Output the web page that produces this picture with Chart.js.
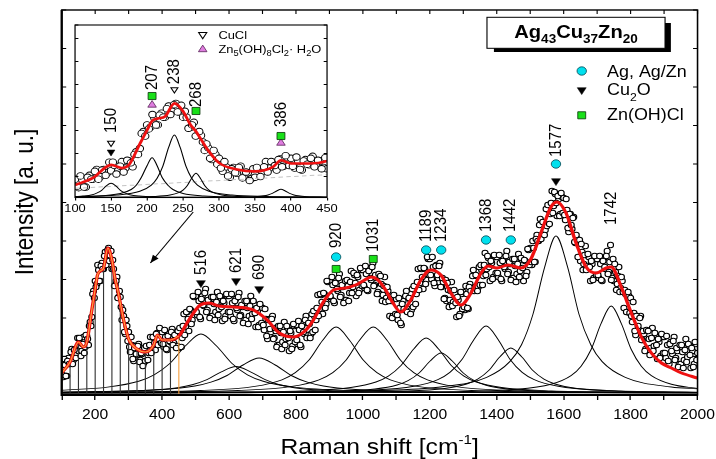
<!DOCTYPE html>
<html><head><meta charset="utf-8">
<script src="https://cdn.jsdelivr.net/npm/chart.js@4.4.1/dist/chart.umd.min.js"></script>
<style>
html,body{margin:0;padding:0;background:#fff;}
#wrap{position:relative;width:716px;height:459px;overflow:hidden;}
#wrap canvas{position:absolute;left:0;top:0;}
</style></head><body>
<div id="wrap"><canvas id="main" width="716" height="459"></canvas><canvas id="inset" width="716" height="459"></canvas></div>
<script>
// ---------------- DATA ----------------
const ramanStart = 100, ramanStep = 5, offsetStart = 102.5;
// measured spectrum, sampled every 5 cm-1 from 100 to 2000
const intensity = [
31,18,30,19,37,31,46,35,46,41, 44,52,44,58,48,59,50,73,78,104,
114,111,125,114,132,126,143,135,147,134, 126,126,110,118,98,98,75,79,61,69,
63,43,50,34,49,40,51,35,41,32, 34,46,42,58,48,57,45,62,51,64,
63,48,58,45,61,53,66,52,59,49, 47,62,57,81,68,83,64,85,75,98,
99,80,94,76,99,89,106,85,93,79, 79,91,83,103,86,97,74,92,79,99,
99,79,92,74,96,85,102,80,88,75, 75,87,79,99,81,91,68,84,70,88,
87,65,76,56,76,63,79,57,64,50, 50,62,53,73,56,66,44,62,49,69,
70,51,65,48,71,61,79,60,71,61, 63,79,75,100,86,100,81,101,91,113,
114,96,110,92,115,104,121,100,108,95, 95,109,102,124,108,120,99,118,105,125,
125,107,121,104,126,115,132,110,117,103, 101,111,100,118,97,104,79,94,79,97,
96,75,87,70,94,85,104,86,96,85, 88,105,101,126,112,126,106,126,115,136,
136,116,128,109,130,117,132,108,113,97, 94,105,95,113,93,102,78,95,81,101,
103,85,101,86,111,104,125,108,119,108, 110,125,119,142,126,137,114,132,118,138,
138,118,132,114,137,126,144,123,131,117, 117,129,121,141,124,135,114,134,123,145,
147,130,147,133,160,154,176,160,173,165, 169,185,181,204,189,201,179,196,181,198,
197,175,185,163,181,166,178,152,156,138, 134,143,131,149,129,138,114,131,117,136,
136,117,131,114,137,126,144,123,150,117, 114,123,111,128,107,114,87,101,83,99,
97,73,82,60,79,65,79,55,61,46, 45,56,47,67,49,59,36,53,39,58,
58,37,50,31,53,41,58,37,44,31, 31,43,35,56,38,49,27,44,31,51,
42];
// interleaved measured points, every 5 cm-1 from 102.5 to 1997.5
const intensityOffset = [
20,36,19,34,31,43,31,45,37,57, 57,39,51,42,60,56,69,69,101,97,
108,130,114,129,126,139,130,145,134,144, 135,109,114,97,104,88,85,63,75,54,
48,58,36,47,41,49,33,42,29,47, 49,35,50,42,58,52,61,50,67,52,
51,65,46,59,54,63,50,60,47,64, 67,48,69,60,83,76,86,71,99,83,
83,103,78,96,90,102,83,95,77,98, 98,75,93,80,99,88,94,76,101,83,
83,101,76,94,87,98,79,90,72,94, 94,71,89,76,94,82,87,68,91,72,
70,86,59,75,66,76,56,67,48,69, 69,46,63,50,69,57,64,46,71,53,
55,74,50,69,63,75,57,72,57,81, 84,65,87,79,101,93,102,87,114,98,
99,118,94,112,106,117,98,110,92,114, 115,94,113,102,122,112,120,102,127,109,
110,129,105,124,117,128,109,120,101,121, 119,94,109,93,108,94,98,77,100,81,
80,97,72,91,86,99,83,97,81,106, 109,91,113,105,127,118,127,111,138,120,
120,138,112,129,120,129,108,117,96,115, 112,88,104,89,105,92,98,79,103,86,
88,109,87,108,104,119,104,120,104,128, 130,110,130,120,139,128,134,116,140,122,
122,140,116,134,128,139,121,133,115,136, 136,113,131,118,137,127,135,119,146,130,
133,154,133,156,154,170,156,173,160,186, 190,171,192,182,203,192,199,179,202,182,
180,196,167,181,170,177,153,160,138,155, 151,125,140,125,141,128,134,115,139,120,
120,139,115,134,128,139,121,133,115,136, 131,105,119,103,118,103,105,83,103,82,
79,93,64,79,69,77,55,64,44,65, 64,40,57,44,62,50,56,37,61,42,
42,59,34,51,44,54,35,47,28,50, 50,27,45,33,51,40,47,28,53,35];
// fitted envelope
const fitShift = [100,125,150,165,175,190,200,207,215,225,238,250,260,268,275,285,300,325,350,375,
386,400,425,450,480,514,540,570,614,650,673,714,750,792,830,852,880,912,948,978,
1000,1025,1045,1068,1090,1113,1143,1173,1203,1233,1263,1293,1323,1353,1374,1400,1434,1472,1502,1532,
1562,1580,1607,1637,1667,1697,1727,1742,1772,1802,1832,1862,1892,1922,1952,2000];
const fitIntensity = [22,33,53,48,53,85,106,120,124,127,147,135,115,104,92,75,56,46,43,50,
60,55,55,59,75,90,92,89,88,87,85,75,62,58,65,75,92,105,107,110,
114,118,115,105,92,83,95,115,125,120,102,90,102,122,129,127,130,127,136,162,
188,193,182,152,128,122,127,128,108,82,58,42,32,27,22,17];
// fitted component bands (main plot)
const comp516 = [[100,4.8],[237,7.9],[330,13.8],[376,20.2],[423,31.5],[470,49.2],[516,61],[562,49.2],[609,31.5],[655,20.2],[702,13.8],[795,7.9],[981,4.3],[1260,2.9],[1632,2.4],[2000,2.2]];
const comp621 = [[100,2.7],[360,4.7],[447,7.3],[490,10.2],[534,15.3],[577,23.2],[621,28.5],[664,23.2],[708,15.3],[751,10.2],[795,7.3],[882,4.7],[1056,3.0],[1317,2.4],[1665,2.2],[2000,2.1]];
const comp690 = [[100,2.9],[402,5.5],[498,9],[546,12.8],[594,19.5],[642,30],[690,37],[738,30],[786,19.5],[834,12.8],[882,9],[978,5.5],[1170,3.4],[1458,2.5],[1842,2.3],[2000,2.2]];
const comp920 = [[100,2.6],[272,3.0],[515,4.5],[677,8.6],[758,15.2],[798,22.3],[839,35],[880,54.8],[920,68],[960,54.8],[1001,35],[1042,22.3],[1082,15.2],[1163,8.6],[1325,4.5],[1568,3.0],[1892,2.5],[2000,2.4]];
const comp1031 = [[100,2.5],[383,3.0],[626,4.5],[788,8.6],[869,15.2],[910,22.3],[950,35],[990,54.8],[1031,68],[1072,54.8],[1112,35],[1152,22.3],[1193,15.2],[1274,8.6],[1436,4.5],[1679,3.0],[2000,2.5]];
const comp1189 = [[100,2.3],[289,2.4],[589,2.9],[814,4.1],[964,7.5],[1039,13],[1076,18.9],[1114,29.5],[1152,46],[1189,57],[1226,46],[1264,29.5],[1302,18.9],[1339,13],[1414,7.5],[1564,4.1],[1789,2.9],[2000,2.5]];
const comp1234 = [[100,2.1],[442,2.3],[706,2.6],[904,3.5],[1036,6],[1102,10],[1135,14.3],[1168,22],[1201,34],[1234,42],[1267,34],[1300,22],[1333,14.3],[1366,10],[1432,6],[1564,3.5],[1762,2.6],[2000,2.3]];
const comp1368 = [[100,2.2],[504,2.5],[792,3.0],[1008,4.6],[1152,8.7],[1224,15.4],[1260,22.6],[1296,35.5],[1332,55.6],[1368,69],[1404,55.6],[1440,35.5],[1476,22.6],[1512,15.4],[1584,8.7],[1728,4.6],[1944,3.0],[2000,2.9]];
const comp1442 = [[100,2.1],[650,2.3],[914,2.7],[1112,3.7],[1244,6.5],[1310,11],[1343,15.8],[1376,24.5],[1409,38],[1442,47],[1475,38],[1508,24.5],[1541,15.8],[1574,11],[1640,6.5],[1772,3.7],[1970,2.7],[2000,2.6]];
const comp1577 = [[100,2.3],[749,3.1],[1025,4.4],[1232,8.0],[1370,17.7],[1439,33.4],[1474,50.3],[1508,80.5],[1543,127.6],[1577,159],[1612,127.6],[1646,80.5],[1681,50.3],[1715,33.4],[1784,17.7],[1922,8.0],[2000,6.1]];
const comp1742 = [[100,2.1],[1022,2.6],[1262,3.3],[1442,5.3],[1562,10.7],[1622,19.4],[1652,28.8],[1682,45.5],[1712,71.6],[1742,89],[1772,71.6],[1802,45.5],[1832,28.8],[1862,19.4],[1922,10.7],[2000,6.5]];
// fitted component bands (inset, 100-450 cm-1)
const ins150 = [[100,4.4],[111,5.2],[124,7.3],[130,9.7],[137,13.9],[143,20.4],[150,24.7],[157,20.4],[163,13.9],[170,9.7],[176,7.3],[189,5.2],[215,3.8],[254,3.3],[306,3.15],[450,3.04]];
const ins207 = [[100,4.1],[120,4.6],[163,9.1],[178,15.2],[185,21.7],[192,33.5],[200,51.7],[207,63.9],[214,51.7],[221,33.5],[229,21.7],[236,15.2],[250,9.1],[279,5.3],[323,3.9],[381,3.4],[450,3.2]];
const ins238 = [[100,4.3],[158,6.7],[190,12.6],[206,22.1],[214,32.4],[222,50.9],[230,79.6],[238,98.7],[246,79.6],[254,50.9],[262,32.4],[270,22.1],[286,12.6],[318,6.7],[366,4.5],[430,3.7],[450,3.5]];
const ins268 = [[100,3.2],[172,3.6],[208,4.4],[232,6.7],[244,10.4],[250,14.4],[256,21.5],[262,32.6],[268,40],[274,32.6],[280,21.5],[286,14.4],[292,10.4],[304,6.7],[328,4.4],[364,3.6],[450,3.2]];
const ins386 = [[100,3.0],[290,3.2],[326,3.5],[350,4.25],[362,5.5],[368,6.85],[374,9.25],[380,13],[386,15.5],[392,13],[398,9.25],[404,6.85],[410,5.5],[422,4.25],[446,3.5],[450,3.45]];
const insetBackground = [[100,17],[450,38]];
// peak assignments
const mainPeakLabels = [516, 621, 690, 920, 1031, 1189, 1234, 1368, 1442, 1577, 1742];
const agPeaks = [920, 1189, 1234, 1368, 1442, 1577];
const cu2oPeaks = [516, 621, 690, 1577];
const znohclPeaks = [920, 1031];
const insetPeakLabels = [150, 207, 238, 268, 386];
const insetCu2oPeaks = [150];
const cuclPeaks = [150, 238];
const insetZnohclPeaks = [207, 268, 386];
const simonkolleitePeaks = [207, 386];
// tick labels
const xTickLabels = [200, 400, 600, 800, 1000, 1200, 1400, 1600, 1800, 2000];
const insetTickLabels = [100, 150, 200, 250, 300, 350, 400, 450];

// ---------------- LAYOUT (annotation placement, in axis units) ----------------
const mainTextY = {516:120, 621:122, 690:115, 920:147, 1031:143, 1189:153, 1234:153, 1368:163, 1442:163, 1577:238, 1742:170};
const mainMarkY = {ag:{920:138,1189:145,1234:145,1368:155,1442:155,1577:231}, cu2o:{516:112,621:114,690:106,1577:214}, znohcl:{920:126,1031:136}};
const insetTextY = {150:101.7, 207:167.5, 238:176.5, 268:141.5, 386:110.9};
const insetMarkY = {cucl:{150:86.4,238:168.3}, cu2o:{150:72.6}, znohcl:{207:158.3,268:135.4,386:97.1}, simon:{207:144.6,386:86.4}};
const arrowFrom = {x:493, y:183}, arrowTo = {x:365, y:132};

const S = 1.12; // horizontal stretch of the original figure
const FONT = '"Liberation Sans", Arimo, Arial, sans-serif';

const CYAN = {pointStyle:'circle', pointRadius:4.2, pointBackgroundColor:'#00e0ee', pointBorderColor:'#0b4f5a', pointBorderWidth:0.8};
const BLACK_TRI = {pointStyle:'triangle', pointRotation:180, pointRadius:4.6, pointBackgroundColor:'#000', pointBorderColor:'#000', pointBorderWidth:0.5};
const GREEN_SQ = {pointStyle:'rect', pointRadius:5, pointBackgroundColor:'#19e019', pointBorderColor:'#0d3d0d', pointBorderWidth:0.8};
const OPEN_TRI = {pointStyle:'triangle', pointRotation:180, pointRadius:3.6, pointBackgroundColor:'#fff', pointBorderColor:'#000', pointBorderWidth:1};
const MAG_TRI = {pointStyle:'triangle', pointRotation:0, pointRadius:4.4, pointBackgroundColor:'#e07de0', pointBorderColor:'#5e2a5e', pointBorderWidth:0.8};

// ---------------- helpers ----------------
const pairs = arr => arr.map(p => ({x:p[0], y:p[1]}));
const scatterPts = intensity.map((y,i)=>({x: ramanStart + ramanStep*i, y}))
  .concat(intensityOffset.map((y,i)=>({x: offsetStart + ramanStep*i, y})));
const fitPts = fitShift.map((x,i)=>({x, y: fitIntensity[i]}));
const dropPts = [];
fitShift.forEach((x,i)=>{ if (x <= 450 && x % 25 === 0) dropPts.push({x, y:0}, {x, y:fitIntensity[i]}, {x, y:null}); });

function compSet(arr, w) {
  return {type:'line', data: pairs(arr), borderColor:'#000', borderWidth: w || 0.9, pointRadius:0, cubicInterpolationMode:'monotone', fill:false, order:3};
}
function markerSet(peaks, ymap, style) {
  return Object.assign({type:'scatter', data: peaks.map(p=>({x:p, y:ymap[p]})), order:0, clip:false}, style);
}
function rich(c, parts, x, y, size, opt) {
  opt = opt || {};
  const weight = opt.bold ? 'bold ' : '';
  const sub = opt.subScale || 0.68;
  const fontFor = m => weight + (m === 0 ? size : size*sub).toFixed(1) + 'px ' + FONT;
  let w = 0;
  parts.forEach(([t,m]) => { c.font = fontFor(m); w += c.measureText(t).width; });
  let cx = opt.align === 'center' ? x - w/2 : x;
  c.textAlign = 'left'; c.textBaseline = 'alphabetic'; c.fillStyle = '#000';
  parts.forEach(([t,m]) => {
    c.font = fontFor(m);
    const dy = m === 1 ? size*0.33 : (m === 2 ? -size*0.45 : 0);
    c.fillText(t, cx, y + dy);
    cx += c.measureText(t).width;
  });
}
function pt(c, st, x, y) {
  c.fillStyle = st.pointBackgroundColor; c.strokeStyle = st.pointBorderColor; c.lineWidth = st.pointBorderWidth;
  Chart.helpers.drawPoint(c, {pointStyle: st.pointStyle, rotation: st.pointRotation || 0, radius: st.pointRadius, borderWidth: st.pointBorderWidth}, x, y);
}
function vText(c, chart, xv, yv, label, size) {
  const px = chart.scales.x.getPixelForValue(xv), py = chart.scales.y.getPixelForValue(yv);
  c.save(); c.translate(px, py); c.rotate(-Math.PI/2);
  c.font = size + 'px ' + FONT; c.fillStyle = '#000'; c.textAlign = 'left'; c.textBaseline = 'middle';
  c.fillText(label, 0, 0); c.restore();
}
function innerTicks(c, chart, len, sides) {
  const a = chart.chartArea, xs = chart.scales.x, ys = chart.scales.y;
  c.save(); c.strokeStyle = '#000'; c.lineWidth = 1; c.beginPath();
  if (sides.top) xs.ticks.forEach(t => { const p = xs.getPixelForValue(t.value); c.moveTo(p, a.top); c.lineTo(p, a.top + len); });
  if (sides.left) ys.ticks.forEach(t => { const p = ys.getPixelForValue(t.value); c.moveTo(a.left, p); c.lineTo(a.left + len, p); });
  if (sides.right) ys.ticks.forEach(t => { const p = ys.getPixelForValue(t.value); c.moveTo(a.right, p); c.lineTo(a.right - len, p); });
  c.stroke(); c.restore();
}

// ---------------- MAIN CHART ----------------
const mainDecor = {
  id: 'mainDecor',
  beforeDraw(chart) {
    const c = chart.ctx; c.save();
    c.fillStyle = '#fff'; c.fillRect(0, 0, chart.width, chart.height);
    c.scale(S, 1);
  },
  afterDraw(chart) {
    const c = chart.ctx, a = chart.chartArea, xs = chart.scales.x, ys = chart.scales.y;
    c.strokeStyle = '#000'; c.lineWidth = 1.4;
    c.strokeRect(a.left, a.top, a.right - a.left, a.bottom - a.top);
    c.lineWidth = 2; c.beginPath(); c.moveTo(a.left, a.top); c.lineTo(a.left, a.bottom); c.lineTo(a.right, a.bottom); c.stroke();
    innerTicks(c, chart, 4, {top:true, left:true, right:true});
    rich(c, [['Raman shift [cm',0],['-1',2],[']',0]], (a.left + a.right)/2, 454, 22, {align:'center', subScale:0.62});
    c.save(); c.translate(29.8, 202); c.rotate(-Math.PI/2);
    c.font = '22.5px ' + FONT; c.fillStyle = '#000'; c.textAlign = 'center'; c.textBaseline = 'alphabetic';
    c.fillText('Intensity [a. u.]', 0, 0); c.restore();
    mainPeakLabels.forEach(p => vText(c, chart, p, mainTextY[p], String(p), 15));
    c.fillStyle = '#000'; c.fillRect(441, 23, 158, 29);
    c.fillStyle = '#fff'; c.fillRect(434.8, 17.3, 159, 31);
    c.strokeStyle = '#000'; c.lineWidth = 1; c.strokeRect(434.8, 17.3, 159, 31);
    rich(c, [['Ag',0],['43',1],['Cu',0],['37',1],['Zn',0],['20',1]], 514.3, 37.5, 18, {bold:true, align:'center', subScale:0.67});
    pt(c, CYAN, 519.4, 71);
    pt(c, BLACK_TRI, 519.4, 90);
    pt(c, GREEN_SQ, 519.4, 115.3);
    rich(c, [['Ag, Ag/Zn',0]], 542, 76.5, 16);
    rich(c, [['Cu',0],['2',1],['O',0]], 542, 95.3, 16);
    rich(c, [['Zn(OH)Cl',0]], 542, 119.8, 16);
    const x1 = xs.getPixelForValue(arrowFrom.x), y1 = ys.getPixelForValue(arrowFrom.y);
    const x2 = xs.getPixelForValue(arrowTo.x), y2 = ys.getPixelForValue(arrowTo.y);
    c.strokeStyle = '#000'; c.lineWidth = 1; c.beginPath(); c.moveTo(x1, y1); c.lineTo(x2, y2); c.stroke();
    const ang = Math.atan2(y2 - y1, x2 - x1), L = 8, H = 3.2;
    c.fillStyle = '#000'; c.beginPath(); c.moveTo(x2, y2);
    c.lineTo(x2 - L*Math.cos(ang) + H*Math.sin(ang), y2 - L*Math.sin(ang) - H*Math.cos(ang));
    c.lineTo(x2 - L*Math.cos(ang) - H*Math.sin(ang), y2 - L*Math.sin(ang) + H*Math.cos(ang));
    c.closePath(); c.fill();
    c.restore();
  }
};

new Chart(document.getElementById('main'), {
  type: 'line',
  data: { datasets: [
    markerSet(agPeaks, mainMarkY.ag, CYAN),
    markerSet(cu2oPeaks, mainMarkY.cu2o, BLACK_TRI),
    markerSet(znohclPeaks, mainMarkY.znohcl, GREEN_SQ),
    {type:'line', data: fitPts.filter(p => p.x <= 450), borderColor:'#ffa040', borderWidth:1.1, pointRadius:0, cubicInterpolationMode:'monotone', order:0.5},
    {type:'line', data: fitPts, borderColor:'#ee1111', borderWidth:3, pointRadius:0, cubicInterpolationMode:'monotone', order:1},
    {type:'line', data: dropPts, borderColor:'#333', borderWidth:1, pointRadius:0, spanGaps:false, order:2,
      segment:{borderColor: ctx => (ctx.p0.parsed.x === 100 || ctx.p0.parsed.x === 450) ? '#f5a040' : '#333'}},
    compSet(comp516), compSet(comp621), compSet(comp690), compSet(comp920), compSet(comp1031), compSet(comp1189),
    compSet(comp1234), compSet(comp1368), compSet(comp1442), compSet(comp1577), compSet(comp1742),
    {type:'scatter', data: scatterPts, pointStyle:'circle', pointRadius:2.7, pointBackgroundColor:'#fff', pointBorderColor:'#000', pointBorderWidth:1, order:4}
  ]},
  options: {
    responsive:false, animation:false, devicePixelRatio:1, events:[],
    layout:{padding:{left:55.1, right:93.2, top:10, bottom:0}},
    plugins:{legend:{display:false}, tooltip:{enabled:false}},
    scales:{
      x:{type:'linear', position:'bottom', min:100, max:2000,
        afterFit(s){ s.height = 64; },
        ticks:{stepSize:100, autoSkip:false, maxRotation:0, padding:7, color:'#000', font:{family:FONT, size:14},
          callback: v => xTickLabels.includes(v) ? String(v) : ''},
        grid:{drawOnChartArea:false, drawTicks:true, tickLength:5, color:'#000', lineWidth:1.2},
        border:{display:false}},
      y:{type:'linear', min:0, max:385,
        afterFit(s){ s.width = 0; },
        ticks:{display:false, stepSize:38.5},
        grid:{display:false}, border:{display:false}}
    }
  },
  plugins:[mainDecor]
});

// ---------------- INSET CHART ----------------
const insetDecor = {
  id: 'insetDecor',
  beforeDraw(chart) {
    const c = chart.ctx, a = chart.chartArea; c.save(); c.scale(S, 1);
    c.fillStyle = '#fff'; c.fillRect(a.left, a.top, a.right - a.left, a.bottom - a.top);
  },
  afterDraw(chart) {
    const c = chart.ctx, a = chart.chartArea;
    c.strokeStyle = '#000'; c.lineWidth = 1.1;
    c.strokeRect(a.left, a.top, a.right - a.left, a.bottom - a.top);
    innerTicks(c, chart, 3, {left:true, right:true});
    insetPeakLabels.forEach(p => vText(c, chart, p, insetTextY[p], String(p), 15));
    pt(c, Object.assign({}, OPEN_TRI, {pointRadius:4.2}), 181, 34.5);
    pt(c, MAG_TRI, 181, 49.5);
    rich(c, [['CuCl',0]], 195, 38.5, 11.5);
    rich(c, [['Zn',0],['5',1],['(OH)',0],['8',1],['Cl',0],['2',1],['\u00b7 H',0],['2',1],['O',0]], 195, 52.5, 11.5, {subScale:0.72});
    c.restore();
  }
};

new Chart(document.getElementById('inset'), {
  type: 'line',
  data: { datasets: [
    markerSet(cuclPeaks, insetMarkY.cucl, OPEN_TRI),
    markerSet(insetCu2oPeaks, insetMarkY.cu2o, Object.assign({}, BLACK_TRI, {pointRadius:4})),
    markerSet(insetZnohclPeaks, insetMarkY.znohcl, GREEN_SQ),
    markerSet(simonkolleitePeaks, insetMarkY.simon, MAG_TRI),
    {type:'line', data: fitPts.filter(p => p.x <= 480), borderColor:'#ee1111', borderWidth:2.6, pointRadius:0, cubicInterpolationMode:'monotone', order:1},
    compSet(ins150, 1), compSet(ins207, 1), compSet(ins238, 1), compSet(ins268, 1), compSet(ins386, 1),
    {type:'line', data: pairs(insetBackground), borderColor:'#c4c4c4', borderWidth:1, borderDash:[4,3], pointRadius:0, order:3.5},
    {type:'scatter', data: scatterPts.filter(p => p.x <= 452), pointStyle:'circle', pointRadius:3.3, pointBackgroundColor:'#fff', pointBorderColor:'#000', pointBorderWidth:0.9, order:4}
  ]},
  options: {
    responsive:false, animation:false, devicePixelRatio:1, events:[],
    layout:{padding:{left:67, right:424, top:25, bottom:241.5}},
    plugins:{legend:{display:false}, tooltip:{enabled:false}},
    scales:{
      x:{type:'linear', position:'bottom', min:100, max:450,
        afterFit(s){ s.height = 20; },
        ticks:{stepSize:50, autoSkip:false, maxRotation:0, padding:1, color:'#000', font:{family:FONT, size:11.5},
          callback: v => insetTickLabels.includes(v) ? String(v) : ''},
        grid:{drawOnChartArea:false, drawTicks:true, tickLength:3, color:'#000', lineWidth:1},
        border:{display:false}},
      y:{type:'linear', min:3, max:267,
        afterFit(s){ s.width = 0; },
        ticks:{display:false, stepSize:35.2},
        grid:{display:false}, border:{display:false}}
    }
  },
  plugins:[insetDecor]
});
</script></body></html>
